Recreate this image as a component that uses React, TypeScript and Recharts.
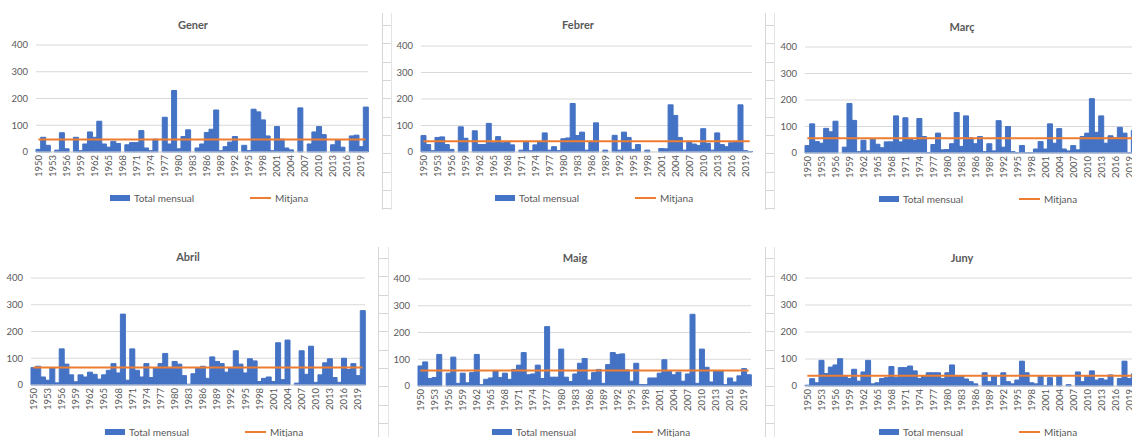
import { Bar, CartesianGrid, ComposedChart, Legend, Line, XAxis, YAxis } from "recharts";

const years = [
  "1950", "1951", "1952", "1953", "1954", "1955", "1956", "1957", "1958", "1959",
  "1960", "1961", "1962", "1963", "1964", "1965", "1966", "1967", "1968", "1969",
  "1970", "1971", "1972", "1973", "1974", "1975", "1976", "1977", "1978", "1979",
  "1980", "1981", "1982", "1983", "1984", "1985", "1986", "1987", "1988", "1989",
  "1990", "1991", "1992", "1993", "1994", "1995", "1996", "1997", "1998", "1999",
  "2000", "2001", "2002", "2003", "2004", "2005", "2006", "2007", "2008", "2009",
  "2010", "2011", "2012", "2013", "2014", "2015", "2016", "2017", "2018", "2019",
  "2020",
];

const gener = [
  10, 55, 25, 0, 7, 72, 12, 0, 55, 5,
  30, 75, 55, 115, 30, 18, 40, 32, 0, 27,
  35, 35, 80, 15, 5, 48, 0, 130, 30, 230,
  12, 58, 83, 0, 15, 30, 73, 85, 157, 5,
  20, 37, 58, 0, 25, 5, 160, 150, 120, 60,
  5, 95, 48, 15, 8, 0, 165, 0, 30, 75,
  95, 65, 0, 27, 45, 18, 0, 60, 63, 20,
  168,
];

const febrer = [
  62, 28, 5, 55, 57, 28, 10, 0, 95, 52,
  0, 80, 28, 28, 108, 35, 58, 35, 38, 27,
  0, 7, 38, 5, 27, 40, 72, 7, 20, 5,
  50, 53, 183, 62, 75, 7, 40, 110, 0, 7,
  0, 63, 7, 75, 55, 10, 28, 0, 7, 0,
  0, 13, 12, 178, 138, 55, 7, 40, 30, 25,
  88, 33, 7, 72, 28, 20, 35, 40, 178, 5,
  2,
];

const marc = [
  28, 110, 43, 37, 93, 80, 120, 0, 22, 187,
  123, 5, 48, 8, 52, 33, 20, 42, 42, 140,
  42, 133, 55, 48, 130, 62, 2, 32, 75, 12,
  13, 35, 153, 25, 140, 57, 35, 62, 5, 35,
  8, 122, 22, 100, 5, 1, 28, 1, 1, 15,
  43, 15, 110, 37, 92, 15, 8, 28, 12, 62,
  75, 205, 78, 140, 37, 65, 57, 97, 75, 1,
  85,
];

const abril = [
  65, 70, 30, 18, 65, 8, 135, 78, 38, 12,
  38, 30, 48, 40, 22, 38, 55, 80, 45, 265,
  18, 135, 55, 30, 80, 28, 65, 80, 118, 65,
  88, 78, 35, 3, 42, 65, 70, 25, 105, 88,
  80, 48, 65, 128, 78, 45, 98, 90, 13, 25,
  30, 13, 158, 20, 168, 0, 7, 128, 40, 145,
  10, 38, 83, 98, 28, 10, 100, 58, 80, 35,
  278,
];

const maig = [
  75, 90, 28, 32, 118, 0, 48, 108, 10, 48,
  12, 50, 118, 5, 25, 30, 58, 32, 48, 25,
  62, 78, 125, 42, 45, 78, 28, 222, 33, 33,
  138, 33, 17, 45, 85, 103, 22, 50, 62, 10,
  80, 125, 118, 120, 60, 18, 85, 5, 5, 30,
  30, 48, 98, 55, 42, 52, 18, 45, 268, 10,
  138, 70, 15, 58, 58, 5, 30, 15, 38, 65,
  42,
];

const juny = [
  3, 27, 12, 95, 46, 70, 78, 101, 36, 28,
  62, 18, 52, 95, 8, 12, 28, 31, 72, 32,
  68, 68, 74, 56, 28, 38, 49, 49, 49, 28,
  49, 78, 35, 38, 26, 16, 8, 0, 49, 16,
  38, 2, 49, 16, 8, 22, 92, 49, 12, 8,
  38, 2, 31, 0, 38, 0, 5, 0, 52, 16,
  38, 56, 22, 28, 22, 41, 0, 28, 92, 28,
  45,
];

const mitjanaGener = 47;
const mitjanaFebrer = 41;
const mitjanaMarc = 56;
const mitjanaAbril = 65;
const mitjanaMaig = 58;
const mitjanaJuny = 38;

const yTicks = [0, 50, 100, 150, 200, 250, 300, 350, 400];

const BLUE = "#4472C4";
const ORANGE = "#ED7D31";
const TEXT = "#595959";
const GRID = "#d9d9d9";

function YearTick({ x, y, payload }: any) {
  return (
    <text
      x={x}
      y={y}
      transform={`rotate(-90 ${x} ${y})`}
      textAnchor="end"
      dominantBaseline="central"
      fontSize={9.5}
      fill={TEXT}
    >
      {payload.value}
    </text>
  );
}

function renderLegend() {
  return (
    <div style={{ position: "relative", height: 14, fontSize: 10, color: TEXT }}>
      <div style={{ position: "absolute", left: 110, top: 4, width: 20, height: 6, background: BLUE }} />
      <span style={{ position: "absolute", left: 134, top: 0, lineHeight: "14px", whiteSpace: "nowrap" }}>
        Total mensual
      </span>
      <div style={{ position: "absolute", left: 250, top: 6, width: 21, height: 2, background: ORANGE }} />
      <span style={{ position: "absolute", left: 275, top: 0, lineHeight: "14px", whiteSpace: "nowrap" }}>
        Mitjana
      </span>
    </div>
  );
}

type MonthProps = {
  title: string;
  values: number[];
  mean: number;
  left: number;
  top: number;
  width: number;
  height: number;
  marginTop: number;
  axisHeight: number;
  titleY: number;
};

function MonthChart({ title, values, mean, left, top, width, height, marginTop, axisHeight, titleY }: MonthProps) {
  const data = years.map((year, i) => ({ year, total: values[i], mitjana: mean }));
  return (
    <>
      <div
        style={{
          position: "absolute",
          left: left + 193 - 60,
          top: titleY - 8,
          width: 120,
          textAlign: "center",
          fontSize: 11,
          fontWeight: 700,
          color: TEXT,
          lineHeight: "16px",
        }}
      >
        {title}
      </div>
      <div style={{ position: "absolute", left, top, width, height }}>
        <ComposedChart
          width={width}
          height={height}
          data={data}
          margin={{ top: marginTop, right: 8, bottom: 7, left: 0 }}
          barCategoryGap={0}
          barGap={0}
        >
          <CartesianGrid vertical={false} stroke={GRID} />
          <XAxis
            dataKey="year"
            interval={2}
            height={axisHeight}
            tick={(p: any) => <YearTick {...p} />}
            tickLine={false}
            tickSize={0}
            tickMargin={3}
            axisLine={{ stroke: GRID }}
          />
          <YAxis
            domain={[0, 400]}
            ticks={yTicks}
            width={36}
            axisLine={false}
            tickLine={false}
            tickSize={0}
            tickMargin={8}
            tick={{ fontSize: 9.5, fill: TEXT }}
          />
          <Bar dataKey="total" name="Total mensual" fill={BLUE} stroke={BLUE} strokeWidth={1} isAnimationActive={false} />
          <Line
            dataKey="mitjana"
            name="Mitjana"
            type="linear"
            stroke={ORANGE}
            strokeWidth={2}
            dot={false}
            activeDot={false}
            isAnimationActive={false}
          />
          <Legend verticalAlign="bottom" content={renderLegend} wrapperStyle={{ height: 14 }} />
        </ComposedChart>
      </div>
    </>
  );
}

function SheetLines() {
  const topTicks = [0, 1, 2, 3, 4, 5, 6, 7, 8, 9, 10].map((k) => 25 + k * 18.33);
  const bottomTicks = [0, 1, 2, 3, 4, 5, 6, 7, 8, 9].map((k) => 258 + k * 18.33);
  const col = (x1: number, x2: number, y1: number, y2: number, ticks: number[]) => (
    <g>
      <line x1={x1 + 0.5} x2={x1 + 0.5} y1={y1} y2={y2} stroke="#d6d6d6" />
      <line x1={x2 + 0.5} x2={x2 + 0.5} y1={y1} y2={y2} stroke="#e4e4e4" />
      {ticks.map((t) => (
        <line key={t} x1={x1} x2={x2} y1={Math.round(t) + 0.5} y2={Math.round(t) + 0.5} stroke="#d6d6d6" />
      ))}
    </g>
  );
  return (
    <svg width={1132} height={437} style={{ position: "absolute", left: 0, top: 0 }}>
      {col(382, 391, 13, 210, topTicks)}
      {col(765, 774, 13, 210, topTicks)}
      {col(378, 388, 247, 437, bottomTicks)}
      {col(765, 774, 247, 437, bottomTicks)}
    </svg>
  );
}

export default function App() {
  return (
    <div
      style={{
        position: "absolute",
        left: 0,
        top: 0,
        width: 1132,
        height: 437,
        overflow: "hidden",
        background: "#ffffff",
        fontFamily: "Lato, 'Liberation Sans', sans-serif",
      }}
    >
      <SheetLines />
      <MonthChart title="Gener" values={gener} mean={mitjanaGener} left={0} top={0} width={376} height={212} marginTop={45} axisHeight={39} titleY={25} />
      <MonthChart title="Febrer" values={febrer} mean={mitjanaFebrer} left={385} top={0} width={375} height={212} marginTop={46} axisHeight={39} titleY={25} />
      <MonthChart title="Març" values={marc} mean={mitjanaMarc} left={769} top={0} width={375} height={213} marginTop={47} axisHeight={39} titleY={27} />
      <MonthChart title="Abril" values={abril} mean={mitjanaAbril} left={-5} top={235} width={378} height={211} marginTop={43} axisHeight={40} titleY={257} />
      <MonthChart title="Maig" values={maig} mean={mitjanaMaig} left={382} top={235} width={377} height={211} marginTop={44} axisHeight={39} titleY={258} />
      <MonthChart title="Juny" values={juny} mean={mitjanaJuny} left={769} top={235} width={375} height={211} marginTop={43} axisHeight={39} titleY={258} />
    </div>
  );
}
